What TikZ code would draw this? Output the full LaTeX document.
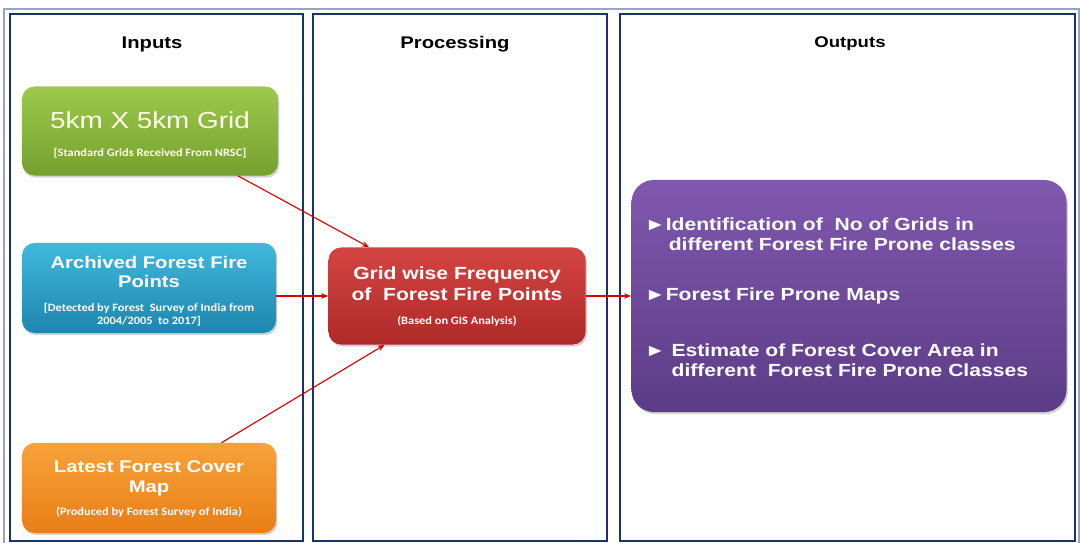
\documentclass[tikz,border=0pt]{standalone}
\usepackage{fontspec}
\setmainfont{Liberation Sans}[FakeStretch=1.2]
\newfontfamily\notefont{Carlito}[FakeStretch=1.1]
\newcommand{\notetext}{\notefont\bfseries\fontsize{8}{9.5}\selectfont}
% centred lines, moved down by #1 inside their box
\newcommand{\lowered}[2]{\raisebox{-#1}[\height][\depth]{\begin{tabular}{@{}c@{}}#2\end{tabular}}}
\usetikzlibrary{positioning,arrows.meta,shadows}

\definecolor{frameblue}{HTML}{1A3270}
\definecolor{greentop}{HTML}{9CC94C}
\definecolor{greenbot}{HTML}{76A02E}
\definecolor{bluetop}{HTML}{40B8DC}
\definecolor{bluebot}{HTML}{1E86AE}
\definecolor{orangetop}{HTML}{F8A23A}
\definecolor{orangebot}{HTML}{E97E16}
\definecolor{redtop}{HTML}{D44442}
\definecolor{redbot}{HTML}{AE2A28}
\definecolor{purpletop}{HTML}{8058AE}
\definecolor{purplebot}{HTML}{5C3C86}

\begin{document}
\begin{tikzpicture}[x=0.025cm,y=-0.025cm,
  panel/.style={draw=frameblue, line width=1.2pt},
  head/.style={font=\fontsize{12}{14}\selectfont\bfseries},
  stepbox/.style={rounded corners=9pt, text=white, inner sep=0pt,
    drop shadow={opacity=0.35, shadow xshift=1pt, shadow yshift=-1.5pt}},
  link/.style={-{Stealth[length=5pt,width=4pt]}, draw=red!85!black, line width=0.8pt}]
  \useasboundingbox (0,0) rectangle (1081,543);

  % Outer frame
  \draw[frameblue!45, line width=0.8pt] (4,543) -- (4,9) -- (1079,9) -- (1079,543);

  % Columns
  \draw[panel] (10,14) rectangle (303,541);
  \draw[panel] (313,14) rectangle (607,541);
  \draw[panel] (620,14) rectangle (1075,541);
  \node[head] (hin) at (152,44) {Inputs};
  \node[head] (hproc) at (455,44) {Processing};
  \node[head, font=\fontsize{11}{13}\selectfont\bfseries] (hout) at (850,44) {Outputs};

  % Inputs
  \node[stepbox, top color=greentop, bottom color=greenbot,
        minimum width=6.4cm, minimum height=2.225cm,
        font=\fontsize{16.5}{19}\selectfont, text=white!92!yellow] (grid) at (150,131)
    {\lowered{4.5pt}{5km X 5km Grid\\[0.5pt] {\notetext [Standard Grids Received From NRSC]}}};

  \node[stepbox, top color=bluetop, bottom color=bluebot,
        minimum width=6.35cm, minimum height=2.25cm,
        font=\fontsize{12}{14}\selectfont\bfseries] (fire) at (149,288)
    {\lowered{2.5pt}{Archived Forest Fire\\ Points\\[6pt]
     {\notetext\begin{tabular}{@{}c@{}}[Detected by Forest\ \ Survey of India from\\ 2004/2005\ \ to 2017]\end{tabular}}}};

  \node[stepbox, top color=orangetop, bottom color=orangebot,
        minimum width=6.35cm, minimum height=2.25cm,
        font=\fontsize{12}{14.5}\selectfont\bfseries] (cover) at (149,488)
    {\lowered{1.5pt}{Latest Forest Cover\\ Map\\[2pt]
     {\notetext (Produced by Forest Survey of India)}}};

  % Processing
  \node[stepbox, top color=redtop, bottom color=redbot,
        minimum width=6.425cm, minimum height=2.425cm,
        font=\fontsize{12.5}{15}\selectfont\bfseries] (freq) at (457,296)
    {\lowered{1.5pt}{Grid wise Frequency\\ of\ \ Forest Fire Points\\[2pt]
     {\notetext (Based on GIS Analysis)}}};

  % Outputs
  \node[stepbox, top color=purpletop, bottom color=purplebot, rounded corners=16pt,
        minimum width=10.875cm, minimum height=5.8cm, inner xsep=0.33cm,
        text width=10.2cm, align=left,
        font=\fontsize{12.5}{14.3}\selectfont\bfseries] (maps) at (849,296)
    {\raisebox{-2.5pt}[\height][\depth]{\begin{tabular}{@{}l@{}l@{}}
       \char"25BA&Identification of\ \ No of Grids in\\
       &\,different Forest Fire Prone classes\\[21pt]
       \char"25BA&Forest Fire Prone Maps\\[26pt]
       \char"25BA&\ Estimate of Forest Cover Area in\\
       &\ different\ \ Forest Fire Prone Classes
     \end{tabular}}};

  % Links
  \draw[link] (grid.-27) -- (freq.151);
  \draw[link] (fire.east |- freq.west) -- (freq.west);
  \draw[link] (cover.32) -- (freq.214);
  \draw[link] (freq.east) -- (freq.east -| maps.west);
\end{tikzpicture}
\end{document}
